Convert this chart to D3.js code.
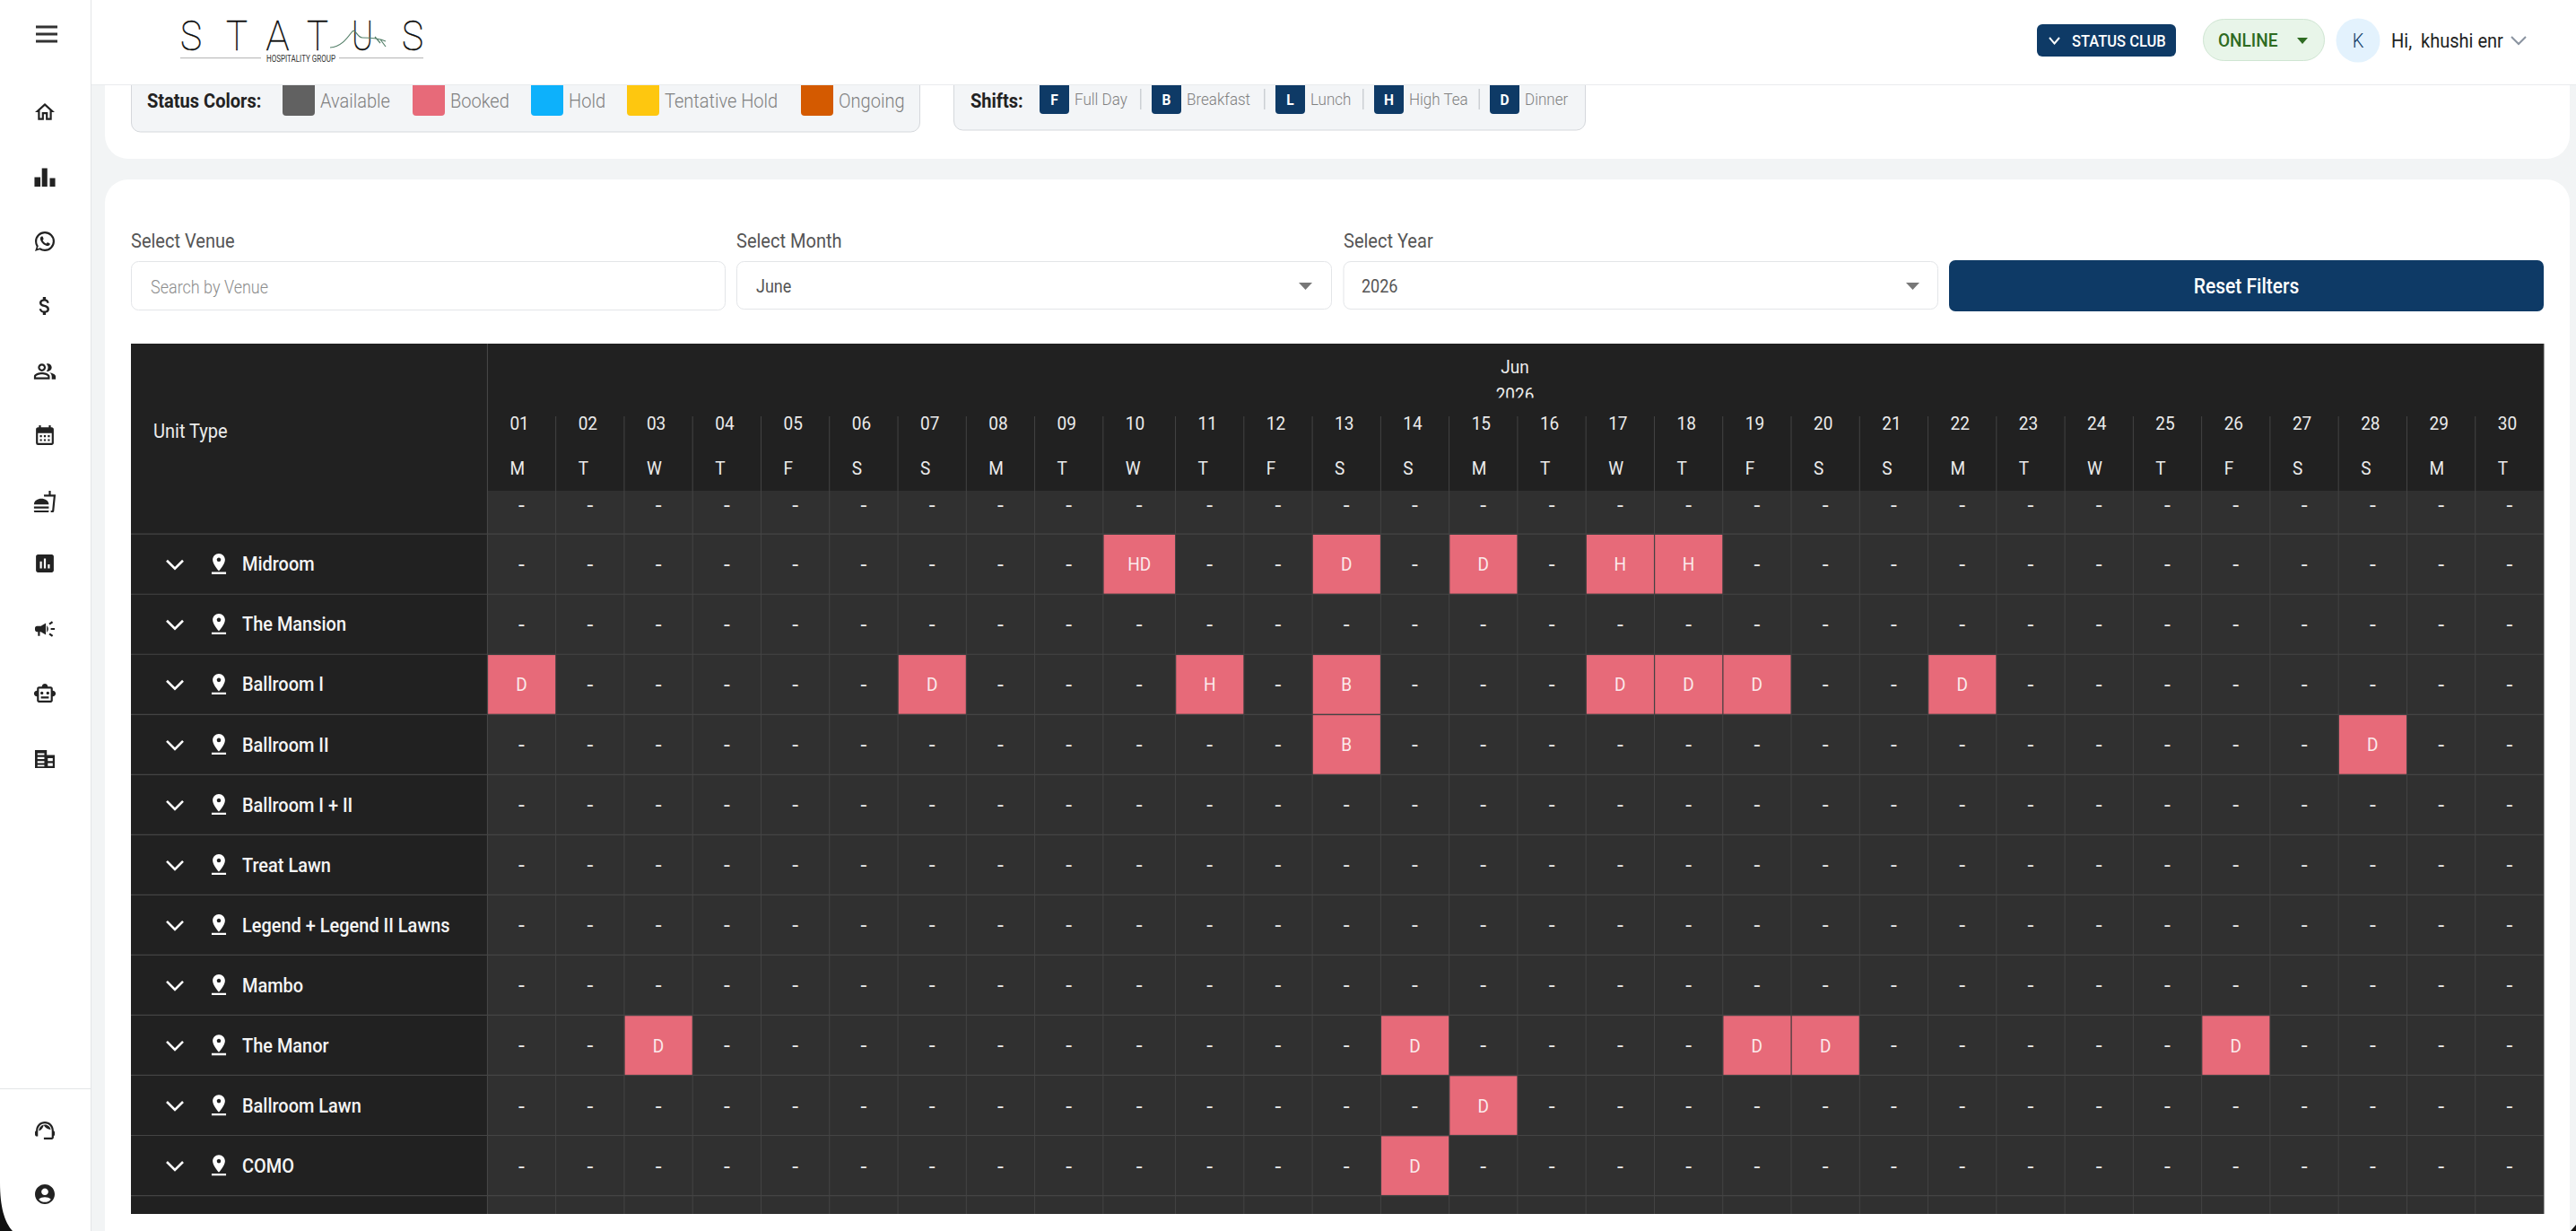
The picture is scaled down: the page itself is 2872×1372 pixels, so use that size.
<!DOCTYPE html>
<html><head><meta charset="utf-8"><title>Venue availability</title>
<style>html,body{margin:0;padding:0;background:#f2f4f5;overflow:hidden}svg{display:block}text{font-family:Roboto,"Noto Sans",sans-serif}</style>
<script src="https://d3js.org/d3.v7.min.js"></script></head><body>
<script>
// ---------- data ----------
const units = ["Midroom","The Mansion","Ballroom I","Ballroom II","Ballroom I + II","Treat Lawn","Legend + Legend II Lawns","Mambo","The Manor","Ballroom Lawn","COMO"];
const dayNumbers = ["01","02","03","04","05","06","07","08","09","10","11","12","13","14","15","16","17","18","19","20","21","22","23","24","25","26","27","28","29","30"];
const dayLetters = ["M","T","W","T","F","S","S","M","T","W","T","F","S","S","M","T","W","T","F","S","S","M","T","W","T","F","S","S","M","T"];
const midroomBookings = [["10","HD"],["13","D"],["15","D"],["17","H"],["18","H"]];
const ballroomIBookings = [["01","D"],["07","D"],["11","H"],["13","B"],["17","D"],["18","D"],["19","D"],["22","D"]];
const ballroomIIBookings = [["13","B"],["28","D"]];
const manorBookings = [["03","D"],["14","D"],["19","D"],["20","D"],["26","D"]];
const ballroomLawnBookings = [["15","D"]];
const comoBookings = [["14","D"]];
const statusNames = ["Available","Booked","Hold","Tentative Hold","Ongoing"];
const statusColors = ["#616161","#e76a79","#0db1fb","#fec70f","#d45a00"];
const shiftCodes = ["F","B","L","H","D"];
const shiftNames = ["Full Day","Breakfast","Lunch","High Tea","Dinner"];
const bookingsByUnit = new Map([["Midroom",midroomBookings],["Ballroom I",ballroomIBookings],["Ballroom II",ballroomIIBookings],["The Manor",manorBookings],["Ballroom Lawn",ballroomLawnBookings],["COMO",comoBookings]]);

// ---------- canvas ----------
const W = 2872, H = 1372, NAVY = "#0e3a66", PINK = statusColors[1];
const svg = d3.select("body").append("svg").attr("width",W).attr("height",H).attr("viewBox",`0 0 ${W} ${H}`);
const T = (g,x,y,s,size,fill,o={}) => g.append("text").attr("x",x).attr("y",y).text(s)
  .attr("font-size",size).attr("fill",fill).attr("font-weight",o.w||400).attr("text-anchor",o.a||"start");
const R = (g,x,y,w,h,fill,rx=0,stroke=null) => g.append("rect").attr("x",x).attr("y",y).attr("width",w).attr("height",h).attr("rx",rx).attr("fill",fill).attr("stroke",stroke);

// ---------- cards ----------
svg.append("rect").attr("width",W).attr("height",H).attr("fill","#f2f4f5");
R(svg,117,-40,2748,217,"#fff",26);
R(svg,117,200,2748,1200,"#fff",26);

// ---------- legends ----------
const legend = svg.append("g");
R(legend,146.5,60,879,87,"#f3f5f7",10,"#d5d8dc");
R(legend,1063.5,60,704,85,"#f3f5f7",10,"#d5d8dc");
T(legend,164,119,"Status Colors:",20,"#222",{w:700});
const statusSwatchX = d3.scaleOrdinal().domain(statusNames).range([315,460,592,699,893]);
statusNames.forEach((n,i)=>{
  R(legend,statusSwatchX(n),80,36,49,statusColors[i],4);
  T(legend,statusSwatchX(n)+42,119,n,20,"#808080",{w:300});
});
T(legend,1082,119,"Shifts:",20,"#222",{w:700});
const shiftSwatchX = d3.scaleOrdinal().domain(shiftCodes).range([1159,1284,1422,1532,1661]);
shiftCodes.forEach((c,i)=>{
  R(legend,shiftSwatchX(c),80,33,47,NAVY,4);
  T(legend,shiftSwatchX(c)+16.5,116,c,15.5,"#fff",{w:700,a:"middle"});
  T(legend,shiftSwatchX(c)+39,116.5,shiftNames[i],17,"#808080",{w:300});
  if(i<4) R(legend,[1271,1409,1519,1648.5][i],99,1.5,23,"#ccd0d4");
});

// ---------- top bar ----------
const topBar = svg.append("g");
R(topBar,0,0,W,94,"#fff");
R(topBar,101,94,W-101,1,"#e9ebed");
// logo
const logo = topBar.append("g");
const logoLetters = ["S","T","A","T","U","S"];
const logoX = d3.scaleOrdinal().domain(d3.range(6)).range([201,252,296.5,342,392,448]);
logoLetters.forEach((l,i)=>logo.append("text").attr("class","raw").attr("x",logoX(i)).attr("y",56)
  .attr("textLength",i===2?26:24).attr("lengthAdjust","spacingAndGlyphs")
  .attr("font-size",47).attr("font-weight",100).attr("fill","#000").attr("stroke","#111").attr("stroke-width",.5).text(l));
logo.append("path").attr("d","M368 53C380 52 386 44 392 36C396 30 398 42 404 42C412 42 422 42 430 46M424 44L430 52M418 41L424 48").attr("fill","none").attr("stroke","#55806a").attr("stroke-width",1.2);
R(logo,201,64,90,1.2,"#bdbdbd");R(logo,378,64,94,1.2,"#bdbdbd");
T(logo,297,69,"HOSPITALITY GROUP",11,"#333").attr("class","raw").attr("textLength",77).attr("lengthAdjust","spacingAndGlyphs");
// right controls
R(topBar,2271,27,155,36,NAVY,6);
topBar.append("path").attr("d","M2285 42L2290.5 48.5L2296 42").attr("fill","none").attr("stroke","#fff").attr("stroke-width",2);
T(topBar,2310,51,"STATUS CLUB",16.5,"#fff",{w:500});
R(topBar,2456.5,21.5,135,46,"#e8f5e9",23,"#cfe5d2");
T(topBar,2473,51,"ONLINE",19,"#2e6b22",{w:500});
topBar.append("path").attr("d","M2561 42H2573L2567 49Z").attr("fill","#2e6b22");
topBar.append("circle").attr("cx",2629).attr("cy",45).attr("r",24.5).attr("fill","#e3f2fd");
T(topBar,2629,52,"K",20,NAVY,{a:"middle",w:300});
T(topBar,2666,52,"Hi,  khushi enr",20,"#222").style("white-space","pre");
topBar.append("path").attr("d","M2800 41L2808 49L2816 41").attr("fill","none").attr("stroke","#8a93a0").attr("stroke-width",2);

// ---------- sidebar ----------
const side = svg.append("g");
R(side,0,0,101,H,"#fff");R(side,101,0,1,H,"#e3e5e7");
R(side,0,1213,101,1,"#e3e5e7");
[30,38,46].forEach(y=>R(side,40,y-1.5,24,3,"#333"));
const iconPaths = [
 "M12 5.69l5 4.5V18h-2v-6H9v6H7v-7.81l5-4.5M12 3L2 12h3v8h6v-6h2v6h6v-8h3L12 3z",
 "M1.5 11.5h6V21h-6zM9 2.5h5.5V21H9zM17 12.5h5.5V21H17z",
 "M16.75 13.96c.25.13.41.2.46.3.06.11.04.61-.21 1.18-.2.56-1.24 1.1-1.7 1.12-.46.02-.47.36-2.96-.73-2.49-1.09-3.99-3.75-4.11-3.92-.12-.17-.96-1.38-.92-2.61.05-1.22.69-1.8.95-2.04.24-.26.51-.29.68-.26h.47c.15 0 .36-.06.55.45l.69 1.87c.06.13.1.28.01.46l-.27.41-.39.42c-.12.12-.26.25-.12.5.12.26.62 1.09 1.32 1.78.91.88 1.71 1.17 1.95 1.3.24.14.39.12.54-.04l.81-.94c.19-.25.35-.19.58-.11l1.67.88M12 2a10 10 0 0 1 10 10 10 10 0 0 1-10 10c-1.97 0-3.8-.57-5.35-1.55L2 22l1.55-4.65A9.969 9.969 0 0 1 2 12 10 10 0 0 1 12 2m0 2a8 8 0 0 0-8 8c0 1.72.54 3.31 1.46 4.61L4.5 19.5l2.89-.96A7.95 7.95 0 0 0 12 20a8 8 0 0 0 8-8 8 8 0 0 0-8-8z",
 "M11.8 10.9c-2.27-.59-3-1.2-3-2.15 0-1.09 1.01-1.85 2.7-1.85 1.78 0 2.44.85 2.5 2.1h2.21c-.07-1.72-1.12-3.3-3.21-3.81V3h-3v2.16c-1.94.42-3.5 1.68-3.5 3.61 0 2.31 1.91 3.46 4.7 4.13 2.5.6 3 1.48 3 2.41 0 .69-.49 1.79-2.7 1.79-2.06 0-2.87-.92-2.98-2.1h-2.2c.12 2.19 1.76 3.42 3.68 3.83V21h3v-2.15c1.95-.37 3.5-1.5 3.5-3.55 0-2.84-2.43-3.81-4.7-4.4z",
 "M16.67 13.13C18.04 14.06 19 15.32 19 17v3h4v-3c0-2.18-3.57-3.47-6.33-3.87zM15 12c2.21 0 4-1.79 4-4s-1.79-4-4-4c-.47 0-.91.1-1.33.24a5.98 5.98 0 0 1 0 7.52c.42.14.86.24 1.33.24zM9 12c2.21 0 4-1.79 4-4s-1.79-4-4-4-4 1.79-4 4 1.79 4 4 4zm0-6c1.1 0 2 .9 2 2s-.9 2-2 2-2-.9-2-2 .9-2 2-2zM9 13c-2.67 0-8 1.34-8 4v3h16v-3c0-2.66-5.33-4-8-4zm6 5H3v-.99C3.2 16.29 6.3 15 9 15s5.8 1.29 6 2v1z",
 "M19 4h-1V2h-2v2H8V2H6v2H5c-1.11 0-1.99.9-1.99 2L3 20a2 2 0 0 0 2 2h14c1.1 0 2-.9 2-2V6c0-1.1-.9-2-2-2zm0 16H5V10h14v10zM9 14H7v-2h2v2zm4 0h-2v-2h2v2zm4 0h-2v-2h2v2zm-8 4H7v-2h2v2zm4 0h-2v-2h2v2zm4 0h-2v-2h2v2z",
 "M1 21.98c0 .56.45 1.01 1.01 1.01H15c.56 0 1.01-.45 1.01-1.01V21H1v.98zM8.5 8.99C4.75 8.99 1 11 1 15h15c0-4-3.75-6.01-7.5-6.01zM1 17h15v2H1zM18 5V1h-2v4h-5l.23 2h9.56l-1.4 14H18v2h1.72c.84 0 1.53-.65 1.63-1.47L23 5h-5z",
 "M19 3H5c-1.1 0-2 .9-2 2v14c0 1.1.9 2 2 2h14c1.1 0 2-.9 2-2V5c0-1.1-.9-2-2-2zM9 17H7v-7h2v7zm4 0h-2V7h2v10zm4 0h-2v-4h2v4z",
 "M18 11v2h4v-2h-4zm-2 6.61c.96.71 2.21 1.65 3.2 2.39.4-.53.8-1.07 1.2-1.6-.99-.74-2.24-1.68-3.2-2.4-.4.54-.8 1.08-1.2 1.61zM20.4 5.6c-.4-.53-.8-1.07-1.2-1.6-.99.74-2.24 1.68-3.2 2.4.4.53.8 1.07 1.2 1.6.96-.72 2.21-1.65 3.2-2.4zM4 9c-1.1 0-2 .9-2 2v2c0 1.1.9 2 2 2h1v4h2v-4h1l5 3V6L8 9H4zm11.5 3c0-1.33-.58-2.53-1.5-3.35v6.69c.92-.81 1.5-2.01 1.5-3.34z",
 "M20 9V7c0-1.1-.9-2-2-2h-3c0-1.66-1.34-3-3-3S9 3.34 9 5H6c-1.1 0-2 .9-2 2v2c-1.66 0-3 1.34-3 3s1.34 3 3 3v4c0 1.1.9 2 2 2h12c1.1 0 2-.9 2-2v-4c1.66 0 3-1.34 3-3s-1.34-3-3-3zM6 7h12v12H6zM7.5 11.5c0-.83.67-1.5 1.5-1.5s1.5.67 1.5 1.5S9.83 13 9 13s-1.5-.67-1.5-1.5zM16 17H8v-2h8v2zm-1-4c-.83 0-1.5-.67-1.5-1.5S14.17 10 15 10s1.5.67 1.5 1.5S15.83 13 15 13z",
 "M2 3h12v5h8v13H2zM4.5 6v2h7V6zM4.5 10v2h7v-2zM4.5 14v2h7v-2zM4.5 18v1.5h7V18zM15 11v3h5v-3zM15 16v3h5v-3z",
 "M21 12.22C21 6.73 16.74 3 12 3c-4.69 0-9 3.65-9 9.28-.6.34-1 .98-1 1.72v2c0 1.1.9 2 2 2h1v-6.1c0-3.87 3.13-7 7-7s7 3.13 7 7V19h-8v2h8c1.1 0 2-.9 2-2v-1.22c.59-.31 1-.92 1-1.64v-2.3c0-.7-.41-1.31-1-1.62zM18 11.03C17.52 8.18 15.04 6 12.05 6c-3.03 0-6.29 2.51-6.03 6.45 2.47-1.01 4.33-3.21 4.86-5.89 1.31 2.63 4 4.44 7.12 4.47z",
 "M12 2C6.48 2 2 6.48 2 12s4.48 10 10 10 10-4.48 10-10S17.52 2 12 2zm0 4c1.93 0 3.5 1.57 3.5 3.5S13.93 13 12 13s-3.5-1.57-3.5-3.5S10.07 6 12 6zm0 14c-2.03 0-4.43-.82-6.14-2.88C7.55 15.8 9.68 15 12 15s4.45.8 6.14 2.12C16.43 19.18 14.03 20 12 20z"];
const iconY = [125,198,269,341,414,485,559,628,701,773,846,1260,1331];
iconPaths.forEach((d,i)=>side.append("path").attr("d",d).attr("fill-rule","evenodd").attr("fill","#222").attr("transform",`translate(${50-13.2},${iconY[i]-13.2}) scale(1.1)`));
svg.append("path").attr("d","M0 1318C0 1345 5 1362 14 1372H0Z").attr("fill","#111");
svg.append("path").attr("d","M2872 1365L2866 1372H2872Z").attr("fill","#111");

// ---------- filters ----------
const filters = svg.append("g");
T(filters,146,275,"Select Venue",20,"#555");
T(filters,821,275,"Select Month",20,"#555");
T(filters,1498,275,"Select Year",20,"#555");
R(filters,146.5,291.5,662,54,"#fff",8,"#e3e5e8");
R(filters,821.5,291.5,663,53,"#fff",8,"#e3e5e8");
R(filters,1498,291.5,662.5,53,"#fff",8,"#e3e5e8");
T(filters,168,326,"Search by Venue",18,"#8c8c8c",{w:300});
T(filters,843,325,"June",18,"#555");
T(filters,1518,325,"2026",18,"#555");
filters.append("path").attr("d","M1448 315H1463L1455.5 323Z").attr("fill","#777");
filters.append("path").attr("d","M2125 315H2140L2132.5 323Z").attr("fill","#777");
R(filters,2173,290,663,57,NAVY,7);
T(filters,2504.5,326,"Reset Filters",21,"#fff",{w:500,a:"middle"});

// ---------- availability grid ----------
const tableL = 146, labelR = 543.4, tableR = 2836, tableT = 383, tableB = 1353, headB = 547, rowsT = 595.2;
const colShare = dayNumbers.map(d => d3.max(units, u => ((bookingsByUnit.get(u)||[]).find(b=>b[0]===d)||["",""])[1].length) > 1 ? 1.058 : 1);
const cum = d3.cumsum([0,...colShare]);
const xScale = d3.scaleLinear().domain([0,d3.sum(colShare)]).range([labelR,tableR]);
const colX = d => xScale(cum[dayNumbers.indexOf(d)]);
const colW = d => xScale(cum[dayNumbers.indexOf(d)+1]) - colX(d);
const yScale = d3.scaleBand().domain(units).range([rowsT,rowsT+67.03*units.length]);

const grid = svg.append("g");
svg.append("defs").append("clipPath").attr("id","yearClip").append("rect").attr("x",1600).attr("y",420).attr("width",200).attr("height",23.5);
R(grid,tableL,tableT,labelR-tableL,tableB-tableT,"#212121");
R(grid,labelR,tableT,tableR-labelR,headB-tableT,"#212121");
R(grid,labelR,headB,tableR-labelR,tableB-headB,"#303030");

const LINE = "#444";
// column rules
grid.append("g").selectAll("line").data(dayNumbers).join("line")
  .attr("x1",d=>colX(d)).attr("x2",d=>colX(d))
  .attr("y1",(d,i)=>i===0?tableT:464).attr("y2",tableB)
  .attr("stroke",LINE).attr("stroke-width",1);
grid.append("line").attr("x1",tableR).attr("x2",tableR).attr("y1",tableT).attr("y2",tableB).attr("stroke",LINE);
// row rules
grid.append("g").selectAll("line").data([...units,null]).join("line")
  .attr("x1",tableL).attr("x2",tableR)
  .attr("y1",d=>d===null?yScale.range()[1]:yScale(d)).attr("y2",d=>d===null?yScale.range()[1]:yScale(d))
  .attr("stroke",LINE).attr("stroke-width",1.2);

// header
T(grid,171,487,"Unit Type",20,"#ececec");
T(grid,1689,415,"Jun",19,"#ececec",{a:"middle"});
T(grid,1689,446,"2026",19,"#ececec",{a:"middle"}).attr("clip-path","url(#yearClip)");
grid.append("g").selectAll("text").data(dayNumbers).join("text")
  .attr("x",d=>colX(d)+25).attr("y",478).attr("font-size",19).attr("font-weight",400).attr("fill","#ececec").text(d=>d);
grid.append("g").selectAll("text").data(dayLetters).join("text")
  .attr("x",(d,i)=>colX(dayNumbers[i])+25).attr("y",528).attr("font-size",19).attr("font-weight",400).attr("fill","#ececec").text(d=>d);
grid.append("g").selectAll("text").data(dayNumbers).join("text")
  .attr("x",d=>colX(d)+colW(d)/2).attr("y",569).attr("font-size",19).attr("text-anchor","middle").attr("fill","#e8e8e8").text("-");

// rows
units.forEach(u=>{
  const y0 = yScale(u), h = yScale.bandwidth(), cy = y0+h/2;
  const row = grid.append("g");
  row.append("path").attr("d",`M186 ${cy-4}L195 ${cy+5}L204 ${cy-4}`).attr("fill","none").attr("stroke","#fff").attr("stroke-width",2.6);
  row.append("path").attr("d","M18 8c0-3.31-2.69-6-6-6S6 4.69 6 8c0 4.5 6 11 6 11s6-6.5 6-11zm-8 0c0-1.1.9-2 2-2s2 .9 2 2a2 2 0 0 1-4 0zM5 20v2h14v-2H5z")
    .attr("fill","#fff").attr("transform",`translate(${244-12*1.15},${cy-13.6-0.5}) scale(1.15)`);
  T(row,270,cy+7,u,20.5,"#f5f5f5",{w:500}).attr("class","unit");
  const booked = new Map(bookingsByUnit.get(u)||[]);
  row.append("g").selectAll("rect").data(dayNumbers.filter(d=>booked.has(d))).join("rect")
    .attr("x",d=>colX(d)+.7).attr("y",y0+.8).attr("width",d=>colW(d)-1.2).attr("height",h-1.4).attr("fill",PINK);
  row.append("g").selectAll("text").data(dayNumbers).join("text")
    .attr("x",d=>colX(d)+colW(d)/2).attr("y",cy+7).attr("font-size",19).attr("text-anchor","middle")
    .attr("fill",d=>booked.has(d)?"#fbeaec":"#e8e8e8").text(d=>booked.get(d)||"-");
});

// The reference type is narrower and taller than Roboto: enlarge, then condense each text.
svg.selectAll("text").each(function(){
  const t = d3.select(this);
  if (t.classed("raw")) return;
  const s = +t.attr("font-size"), isDash = t.text()==="-";
  if (isDash) { t.attr("font-size",s*1.3).attr("y",+t.attr("y")+s*.08); return; }
  t.attr("font-size",s*1.1).attr("y",+t.attr("y")+s*.035);
  const f = t.classed("unit") ? .885 : .91;
  t.attr("textLength",this.getComputedTextLength()*f).attr("lengthAdjust","spacingAndGlyphs");
});
</script></body></html>
